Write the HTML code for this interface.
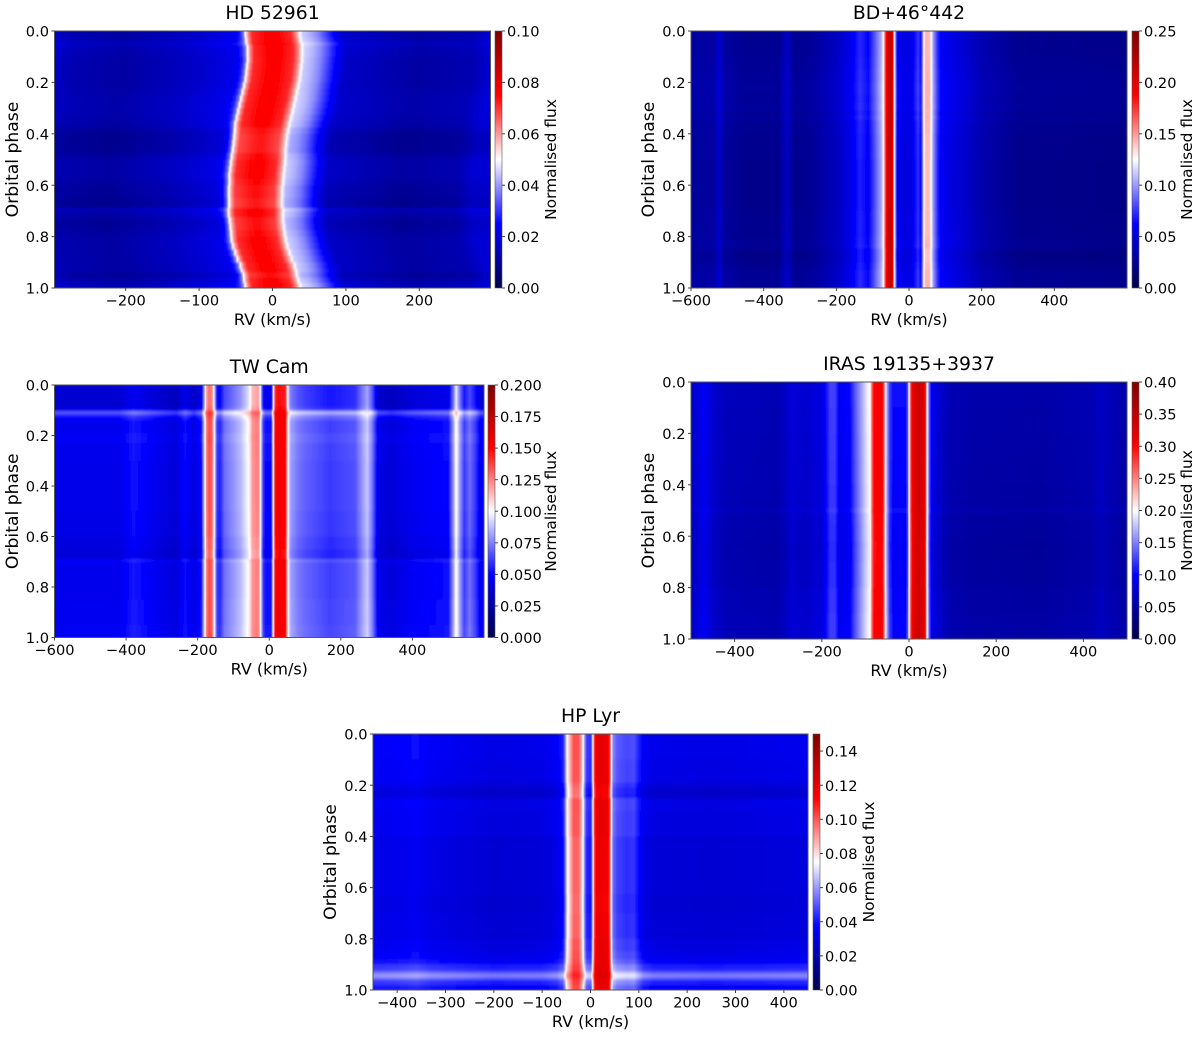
<!DOCTYPE html>
<html>
<head>
<meta charset="utf-8">
<title>Orbital phase RV heatmaps</title>
<style>
html,body{margin:0;padding:0;background:#fff;width:1200px;height:1037px;overflow:hidden}
svg{display:block}
text{font-family:"DejaVu Sans","Liberation Sans",sans-serif;fill:#000}
</style>
</head>
<body>
<svg id="figure" xmlns="http://www.w3.org/2000/svg" width="1200" height="1037" viewBox="0 0 1200 1037">
<defs>
<filter id="soften" x="-5%" y="-5%" width="110%" height="110%"><feGaussianBlur stdDeviation="0.35 1.3"/></filter>
</defs>
</svg>
<script>
// HD 52961
const hd52961Rv = [-300,-270,-200,-120,-80,-50,-42,-37,-34,-30,-25,-15,-5,5,15,28,36,40,44,55,65,75,86,100,200,275,300];
const hd52961Flux = [0.018,0.014,0.012,0.016,0.019,0.022,0.027,0.036,0.05,0.062,0.071,0.073,0.075,0.076,0.074,0.071,0.06,0.05,0.045,0.042,0.038,0.032,0.025,0.017,0.012,0.014,0.019];
const hd52961Phases = [0,0.025,0.045,0.055,0.08,0.1,0.125,0.15,0.175,0.2,0.225,0.25,0.275,0.3,0.325,0.35,0.375,0.4,0.425,0.45,0.475,0.5,0.525,0.55,0.575,0.6,0.625,0.65,0.675,0.69,0.7,0.725,0.75,0.775,0.8,0.825,0.85,0.875,0.9,0.925,0.94,0.96,0.98];
const hd52961Shifts = [-3,-2,-1,0,0,0,-1,-2,-3,-5,-7,-9,-11,-13,-15,-17,-18,-19,-20,-21,-22,-23,-24,-25,-25,-26,-26,-26,-26,-26,-26,-25,-24,-23,-22,-20,-17,-14,-10,-8,-6,-5,-3];
const hd52961Offsets = [0,0.001,0.004,0.001,0.001,0,0,0,0,0,0.0005,0.001,0.001,0.001,0.0005,0,-0.002,-0.003,-0.003,-0.003,-0.001,0,0,0,-0.001,-0.002,-0.002,-0.003,-0.003,0.003,0,-0.002,-0.002,-0.001,0,0,0,0,0,0,-0.002,0,0.002];
const hd52961XTicks = [-200,-100,0,100,200];
const hd52961CbarTicks = ["0.00","0.02","0.04","0.06","0.08","0.10"];

// BD+46 442
const bd46Rv = [-600,-560,-540,-522,-505,-450,-360,-335,-315,-260,-197,-160,-135,-112,-93,-77,-71,-64,-58,-46,-43,-40,-35,-31,-10,5,25,33,38,41,46,56,61,67,78,88,120,160,200,300,600];
const bd46Flux = [0.03,0.029,0.03,0.045,0.029,0.024,0.024,0.042,0.024,0.028,0.042,0.056,0.072,0.062,0.085,0.105,0.122,0.178,0.214,0.214,0.16,0.125,0.08,0.058,0.052,0.054,0.075,0.065,0.1,0.125,0.143,0.143,0.125,0.1,0.075,0.06,0.052,0.045,0.035,0.024,0.022];
const bd46Phases = [0,0.05,0.1,0.15,0.2,0.25,0.28,0.31,0.33,0.345,0.4,0.5,0.6,0.7,0.8,0.83,0.845,0.9,0.93,0.96];
const bd46Offsets = [0,0,0.001,0.002,0.003,0.002,0.003,0.001,0.003,0,-0.001,-0.002,-0.002,-0.001,0,0.001,-0.003,-0.001,0.001,0.001];
const bd46XTicks = [-600,-400,-200,0,200,400];
const bd46CbarTicks = ["0.00","0.05","0.10","0.15","0.20","0.25"];

// TW Cam
const twCamRv = [-600,-420,-380,-300,-260,-235,-210,-190,-179,-175,-168,-160,-156,-152,-146,-138,-125,-100,-80,-60,-54,-47,-31,-26,-22,-17,-10,5,9,12,17,25,45,50,54,60,80,100,170,240,254,274,288,305,340,400,500,515,522,532,545,560,575,590,600];
const twCamFlux = [0.043,0.043,0.052,0.042,0.038,0.05,0.04,0.05,0.1,0.125,0.135,0.13,0.11,0.09,0.06,0.055,0.07,0.078,0.085,0.098,0.105,0.12,0.125,0.11,0.085,0.06,0.05,0.05,0.08,0.11,0.148,0.155,0.15,0.115,0.095,0.08,0.072,0.068,0.06,0.065,0.075,0.088,0.072,0.042,0.038,0.045,0.05,0.08,0.102,0.08,0.06,0.07,0.06,0.045,0.045];
const twCamPhases = [0,0.03,0.06,0.085,0.1,0.105,0.11,0.115,0.12,0.13,0.14,0.16,0.19,0.23,0.3,0.4,0.5,0.6,0.65,0.68,0.69,0.7,0.75,0.85,0.95];
const twCamOffsets = [-0.006,-0.006,-0.006,-0.004,0.01,0.025,0.023,0.016,0.01,0.006,0.002,0.002,0.004,0.002,0.001,0.001,0,-0.002,-0.004,-0.004,0.007,0.002,0.002,0.003,0.004];
const twCamXTicks = [-600,-400,-200,0,200,400];
const twCamCbarTicks = ["0.000","0.025","0.050","0.075","0.100","0.125","0.150","0.175","0.200"];

// IRAS 19135+3937
const irasRv = [-500,-480,-465,-450,-420,-300,-270,-240,-200,-181,-170,-158,-135,-124,-110,-96,-89,-85,-80,-62,-57,-54,-50,-44,-36,-8,-3,0,4,8,15,30,37,40,42,46,52,70,94,150,300,420,440,470,500];
const irasFlux = [0.06,0.085,0.09,0.07,0.06,0.055,0.075,0.07,0.08,0.122,0.122,0.09,0.1,0.13,0.16,0.19,0.2,0.26,0.3,0.31,0.26,0.2,0.16,0.12,0.1,0.1,0.13,0.2,0.27,0.31,0.335,0.335,0.31,0.23,0.2,0.14,0.09,0.07,0.055,0.05,0.048,0.055,0.065,0.055,0.052];
const irasPhases = [0,0.1,0.2,0.3,0.4,0.49,0.51,0.55,0.62,0.64,0.7,0.8,0.9];
const irasOffsets = [0.003,0.002,0.001,0,-0.001,0.003,-0.003,-0.004,-0.006,-0.005,-0.004,-0.001,0.001];
const irasXTicks = [-400,-200,0,200,400];
const irasCbarTicks = ["0.00","0.05","0.10","0.15","0.20","0.25","0.30","0.35","0.40"];

// HP Lyr
const hpLyrRv = [-450,-400,-360,-330,-200,-100,-70,-57,-53,-51,-48,-43,-35,-25,-20,-15,-12,-8,0,3,5,9,15,35,40,43,47,55,75,90,100,110,130,250,450];
const hpLyrFlux = [0.034,0.035,0.037,0.034,0.03,0.031,0.034,0.04,0.052,0.063,0.075,0.085,0.1,0.1,0.09,0.075,0.058,0.045,0.042,0.055,0.075,0.11,0.12,0.118,0.105,0.075,0.055,0.049,0.046,0.047,0.04,0.034,0.031,0.03,0.032];
const hpLyrPhases = [0,0.05,0.1,0.15,0.19,0.21,0.235,0.25,0.3,0.4,0.5,0.6,0.625,0.7,0.8,0.85,0.88,0.9,0.92,0.93,0.94,0.95,0.96,0.98];
const hpLyrOffsets = [0.002,0.002,0.001,0.001,-0.002,-0.004,-0.005,0.001,0,-0.002,-0.002,-0.002,-0.003,-0.002,0,0.002,0.005,0.011,0.014,0.022,0.026,0.02,0.011,0.006];
const hpLyrXTicks = [-400,-300,-200,-100,0,100,200,300,400];
const hpLyrCbarTicks = ["0.00","0.02","0.04","0.06","0.08","0.10","0.12","0.14"];

const phaseTicks = ["0.0","0.2","0.4","0.6","0.8","1.0"];

const panels = [
 {key:'hd-52961',title:'HD 52961',rv:hd52961Rv,flux:hd52961Flux,phases:hd52961Phases,shifts:hd52961Shifts,offsets:hd52961Offsets,xTicks:hd52961XTicks,cbarTicks:hd52961CbarTicks,vmax:0.10,xMin:-297,xMax:297,left:54.5,right:490.5,top:31,bottom:288,cbarLeft:495,cbarRight:502,ylabelX:13,cbarLabelX:551},
 {key:'bd-46-442',title:'BD+46°442',rv:bd46Rv,flux:bd46Flux,phases:bd46Phases,shifts:null,offsets:bd46Offsets,xTicks:bd46XTicks,cbarTicks:bd46CbarTicks,vmax:0.25,xMin:-600,xMax:600,left:691,right:1127,top:31,bottom:288,cbarLeft:1132,cbarRight:1139,ylabelX:649,cbarLabelX:1187},
 {key:'tw-cam',title:'TW Cam',rv:twCamRv,flux:twCamFlux,phases:twCamPhases,shifts:null,offsets:twCamOffsets,xTicks:twCamXTicks,cbarTicks:twCamCbarTicks,vmax:0.20,xMin:-600,xMax:600,left:54.5,right:484,top:385,bottom:637.5,cbarLeft:488,cbarRight:495,ylabelX:13,cbarLabelX:551},
 {key:'iras-19135',title:'IRAS 19135+3937',rv:irasRv,flux:irasFlux,phases:irasPhases,shifts:null,offsets:irasOffsets,xTicks:irasXTicks,cbarTicks:irasCbarTicks,vmax:0.40,xMin:-500,xMax:500,left:691,right:1127,top:382,bottom:639,cbarLeft:1132,cbarRight:1139,ylabelX:649,cbarLabelX:1187},
 {key:'hp-lyr',title:'HP Lyr',rv:hpLyrRv,flux:hpLyrFlux,phases:hpLyrPhases,shifts:null,offsets:hpLyrOffsets,xTicks:hpLyrXTicks,cbarTicks:hpLyrCbarTicks,vmax:0.15,xMin:-450,xMax:450,left:373,right:808,top:734,bottom:990,cbarLeft:813,cbarRight:820,ylabelX:331,cbarLabelX:869}
];

const NS = 'http://www.w3.org/2000/svg';
const svg = document.getElementById('figure');
const defs = svg.querySelector('defs');
const minusSign = '\u2212';

function make(tag, attrs, parent) {
  const el = document.createElementNS(NS, tag);
  for (const k in attrs) el.setAttribute(k, attrs[k]);
  (parent || svg).appendChild(el);
  return el;
}

// seismic colormap
function seismic(f) {
  f = Math.max(0, Math.min(1, f));
  let r, g, b;
  if (f < 0.25) { r = 0; g = 0; b = 0.3 + 0.7 * f / 0.25; }
  else if (f < 0.5) { const t = (f - 0.25) / 0.25; r = t; g = t; b = 1; }
  else if (f < 0.75) { const t = (f - 0.5) / 0.25; r = 1; g = 1 - t; b = 1 - t; }
  else { r = 1 - 0.5 * (f - 0.75) / 0.25; g = 0; b = 0; }
  return 'rgb(' + Math.round(r * 255) + ',' + Math.round(g * 255) + ',' + Math.round(b * 255) + ')';
}

function addStop(grad, offset, f) {
  const s = document.createElementNS(NS, 'stop');
  s.setAttribute('offset', offset.toFixed(5));
  s.setAttribute('stop-color', seismic(f));
  grad.appendChild(s);
}

// a row's brightness offset has less effect on the already saturated emission peaks
function applyOffset(v, off, vmax) {
  const f = v / vmax;
  const atten = Math.max(0, Math.min(1, (0.85 - f) / 0.55));
  return (v + (off > 0 ? off * atten : off)) / vmax;
}

function drawPanel(p, index) {
  const g = make('g', {});
  
  

  const xScale = v => p.left + (v - p.xMin) / (p.xMax - p.xMin) * (p.right - p.left);
  const yScale = v => p.top + v * (p.bottom - p.top);

  const clipId = 'clip-' + index;
  const clip = make('clipPath', {id: clipId}, defs);
  make('rect', {x: p.left, y: p.top, width: p.right - p.left, height: p.bottom - p.top}, clip);

  const clipGroup = make('g', {'clip-path': 'url(#' + clipId + ')'}, g);
  
  
  const heat = make('g', {filter: 'url(#soften)'}, clipGroup);

  const rv0 = p.rv[0], rvN = p.rv[p.rv.length - 1];
  p.phases.forEach((ph, i) => {
    const next = i + 1 < p.phases.length ? p.phases[i + 1] : 1;
    const shift = p.shifts ? p.shifts[i] : 0;
    const off = p.offsets[i];
    const id = 'row-' + index + '-' + i;
    const grad = make('linearGradient', {id: id, gradientUnits: 'userSpaceOnUse',
      x1: xScale(rv0 + shift), x2: xScale(rvN + shift), y1: 0, y2: 0}, defs);
    for (let k = 0; k < p.rv.length; k++) {
      const a = applyOffset(p.flux[k], off, p.vmax);
      const pos = (p.rv[k] - rv0) / (rvN - rv0);
      addStop(grad, pos, a);
      if (k + 1 < p.rv.length) {
        const b = applyOffset(p.flux[k + 1], off, p.vmax);
        const posB = (p.rv[k + 1] - rv0) / (rvN - rv0);
        const crossings = (a < b ? [0.25, 0.5, 0.75] : [0.75, 0.5, 0.25]);
        crossings.forEach(c => {
          if ((a < c && b > c) || (a > c && b < c)) {
            addStop(grad, pos + (posB - pos) * (c - a) / (b - a), c);
          }
        });
      }
    }
    const y0 = i === 0 ? p.top - 6 : yScale(ph);
    const y1 = next === 1 ? p.bottom + 6 : yScale(next);
    const row = make('rect', {x: p.left - 4, y: y0, width: p.right - p.left + 8, height: y1 - y0 + 0.4, fill: 'url(#' + id + ')'}, heat);
    
    
  });

  // axes frame
  const frame = make('rect', {x: p.left, y: p.top, width: p.right - p.left, height: p.bottom - p.top, fill: 'none', stroke: '#555', 'stroke-width': 1}, g);
  
  

  // title
  const title = make('text', {x: (p.left + p.right) / 2, y: p.top - 12, 'text-anchor': 'middle', 'font-size': 18.8}, g);
  title.textContent = p.title;
  
  

  // x ticks
  p.xTicks.forEach(v => {
    const x = xScale(v);
    const tick = make('line', {x1: x, x2: x, y1: p.bottom, y2: p.bottom + 3, stroke: '#444', 'stroke-width': 1}, g);
    
    
    const label = make('text', {x: x, y: p.bottom + 17.7, 'text-anchor': 'middle', 'font-size': 14.6}, g);
    label.textContent = (v < 0 ? minusSign + Math.abs(v) : String(v));
    
    
  });
  const xTitle = make('text', {x: (p.left + p.right) / 2, y: p.bottom + 37, 'text-anchor': 'middle', 'font-size': 16}, g);
  xTitle.textContent = 'RV (km/s)';
  
  

  // y ticks
  phaseTicks.forEach(t => {
    const y = yScale(parseFloat(t));
    const tick = make('line', {x1: p.left, x2: p.left - 3, y1: y, y2: y, stroke: '#444', 'stroke-width': 1}, g);
    
    
    const label = make('text', {x: p.left - 5.5, y: y + 5.6, 'text-anchor': 'end', 'font-size': 14.6}, g);
    label.textContent = t;
    
    
  });
  const yMid = (p.top + p.bottom) / 2;
  const yTitle = make('text', {x: p.ylabelX, y: yMid, 'text-anchor': 'middle', 'dominant-baseline': 'central', 'font-size': 17.2,
    transform: 'rotate(-90 ' + p.ylabelX + ' ' + yMid + ')'}, g);
  yTitle.textContent = 'Orbital phase';
  
  

  // colorbar
  const cbarId = 'cbar-' + index;
  const cg = make('linearGradient', {id: cbarId, x1: 0, x2: 0, y1: 1, y2: 0}, defs);
  [0, 0.25, 0.5, 0.75, 1].forEach(f => addStop(cg, f, f));
  const cbar = make('rect', {x: p.cbarLeft, y: p.top, width: p.cbarRight - p.cbarLeft, height: p.bottom - p.top, fill: 'url(#' + cbarId + ')', stroke: '#555', 'stroke-width': 0.6}, g);
  
  
  p.cbarTicks.forEach(t => {
    const y = p.bottom - parseFloat(t) / p.vmax * (p.bottom - p.top);
    const tick = make('line', {x1: p.cbarRight, x2: p.cbarRight + 3, y1: y, y2: y, stroke: '#444', 'stroke-width': 1}, g);
    
    
    const label = make('text', {x: p.cbarRight + 5, y: y + 5.6, 'text-anchor': 'start', 'font-size': 14.6}, g);
    label.textContent = t;
    
    
  });
  const cTitle = make('text', {x: p.cbarLabelX, y: yMid, 'text-anchor': 'middle', 'dominant-baseline': 'central', 'font-size': 15.4,
    transform: 'rotate(-90 ' + p.cbarLabelX + ' ' + yMid + ')'}, g);
  cTitle.textContent = 'Normalised flux';
  
  
}

panels.forEach(drawPanel);
</script>
</body>
</html>
